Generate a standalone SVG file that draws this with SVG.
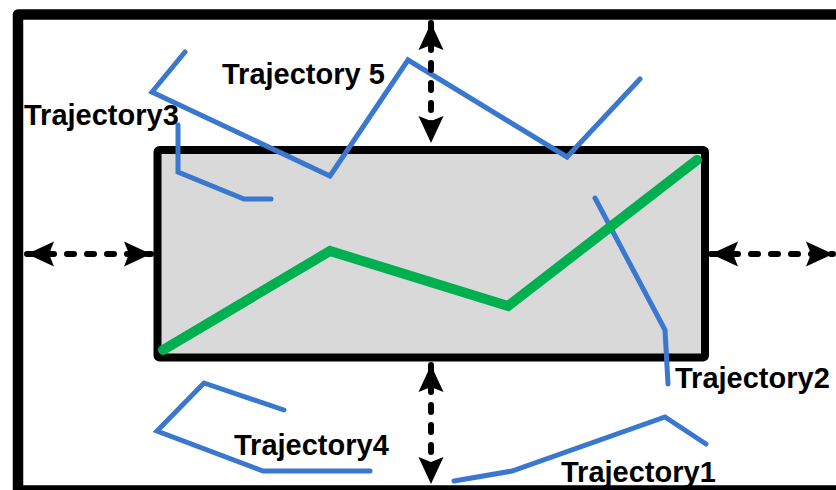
<svg xmlns="http://www.w3.org/2000/svg" width="836" height="490" viewBox="0 0 836 490">
<style>
.frame{fill:none;stroke:#000;stroke-width:10.5;stroke-linejoin:round}
.box{fill:#d9d9d9;stroke:#000;stroke-width:8;stroke-linejoin:round}
.traj{fill:none;stroke:#3a78cf;stroke-width:5;stroke-linecap:round;stroke-linejoin:miter}
.main{fill:none;stroke:#00b050;stroke-width:10;stroke-linecap:round;stroke-linejoin:miter}
.arr{fill:none;stroke:#000;stroke-width:6;stroke-linecap:round;stroke-dasharray:7 13;marker-start:url(#head);marker-end:url(#head)}
.lbl{font-family:"Liberation Sans",Arial,sans-serif;font-weight:bold;font-size:29px;fill:#000}
</style>
<defs>
<marker id="head" viewBox="-28 -13 30 26" refX="0" refY="0" markerWidth="30" markerHeight="26" markerUnits="userSpaceOnUse" orient="auto-start-reverse">
<path d="M0,0 L-27,-12.5 L-22,0 L-27,12.5 Z" fill="#000"/>
</marker>
</defs>
<g id="frame"><rect class="frame" x="18" y="14.5" width="830" height="476"/></g>
<g id="region"><rect class="box" x="157.5" y="150" width="547.5" height="207.5" rx="2"/></g>
<g id="trajectory5"><polyline class="traj" points="185,52 152,92 330,176 408,60 567,157 640,79"/></g>
<g id="trajectory3"><polyline class="traj" points="178,125 178,172 244,199 271,199"/></g>
<g id="trajectory2"><polyline class="traj" points="595,198 665,330 668,384"/></g>
<g id="trajectory4"><polyline class="traj" points="284,410 204,383 157,431 263,471 370,471"/></g>
<g id="trajectory1"><polyline class="traj" points="454,481 512,471 665,417 706,444"/></g>
<g id="mainpath"><polyline class="main" points="163,350 330,251 508,306 697,160"/></g>
<g id="connectors">
<line class="arr" x1="431" y1="23" x2="431" y2="143"/>
<line class="arr" x1="431" y1="365" x2="431" y2="484"/>
<line class="arr" x1="27" y1="254" x2="151" y2="254"/>
<line class="arr" x1="711" y1="254" x2="833" y2="254"/>
</g>
<g id="labels">
<text class="lbl" x="24" y="125">Trajectory3</text>
<text class="lbl" x="222" y="84">Trajectory 5</text>
<text class="lbl" x="675" y="388">Trajectory2</text>
<text class="lbl" x="234" y="455">Trajectory4</text>
<text class="lbl" x="561" y="482">Trajectory1</text>
</g>
</svg>
